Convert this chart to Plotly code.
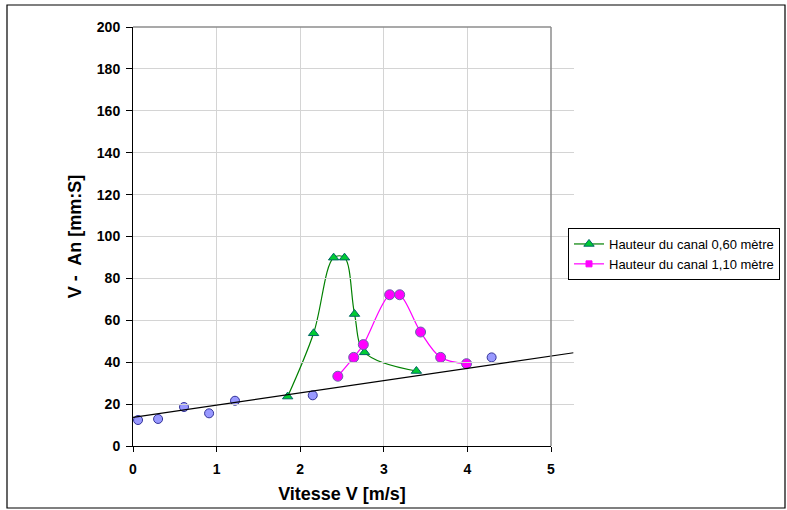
import plotly.graph_objects as go

# ---- data ----
blue_x = [0.06, 0.30, 0.61, 0.91, 1.22, 2.15, 4.29]
blue_y = [12.4, 12.9, 18.6, 15.6, 21.6, 24.2, 42.3]

green_x = [1.85, 2.16, 2.40, 2.53, 2.65, 2.77, 3.39]
green_y = [23.6, 53.8, 89.9, 89.9, 63.0, 44.7, 35.8]

mag_x = [2.45, 2.64, 2.755, 3.07, 3.19, 3.44, 3.68, 3.99]
mag_y = [33.3, 42.3, 48.4, 72.2, 72.2, 54.4, 42.3, 39.3]

trend_x = [0.0, 5.27]
trend_y = [13.7, 44.5]

name_green = "Hauteur du canal 0,60 mètre"
name_mag = "Hauteur du canal 1,10 mètre"

x_range = [0, 5]
y_range = [0, 200]

# ---- layout geometry ----
W, H = 787, 510
ml, mt, mb = 133, 27, 64
plot_w = 418
paper_w = 470
mr = W - ml - paper_w
plot_h = H - mt - mb
px_per_unit = plot_w / (x_range[1] - x_range[0])

FONT = "Arial, Liberation Sans, sans-serif"

fig = go.Figure()

# trendline on an auxiliary x-axis with identical scale (so it can run past x=5)
fig.add_trace(go.Scatter(
    x=trend_x, y=trend_y, mode="lines", xaxis="x2", yaxis="y",
    line=dict(color="black", width=1.2), showlegend=False, hoverinfo="skip"))

fig.add_trace(go.Scatter(
    x=blue_x, y=blue_y, mode="markers", showlegend=False,
    marker=dict(symbol="circle", size=9, color="#9999FF",
                line=dict(color="#333399", width=1))))

fig.add_trace(go.Scatter(
    x=green_x, y=green_y, mode="lines+markers", name=name_green,
    line=dict(color="#008000", width=1.2, shape="spline", smoothing=1),
    marker=dict(symbol="triangle-up", size=9, color="#00CC33",
                line=dict(color="#006666", width=1))))

fig.add_trace(go.Scatter(
    x=mag_x, y=mag_y, mode="lines+markers", name=name_mag, showlegend=False,
    line=dict(color="#FF00FF", width=1.2, shape="spline", smoothing=1),
    marker=dict(symbol="circle", size=10, color="#FF00FF",
                line=dict(color="#6666AA", width=1))))

# legend entry for magenta series (square marker as in the original legend)
fig.add_trace(go.Scatter(
    x=[None], y=[None], mode="lines+markers", name=name_mag,
    line=dict(color="#FF00FF", width=1.2),
    marker=dict(symbol="square", size=6, color="#FF00FF",
                line=dict(color="#FF00FF", width=1))))

x2_extent = trend_x[-1] * px_per_unit

fig.update_layout(
    width=W, height=H,
    margin=dict(l=ml, r=mr, t=mt, b=mb, pad=0, autoexpand=False),
    paper_bgcolor="white", plot_bgcolor="rgba(0,0,0,0)",
    font=dict(family=FONT, color="black"),
    xaxis=dict(
        domain=[0, plot_w / paper_w], range=x_range, dtick=1,
        showgrid=True, gridcolor="#D4D4D4", gridwidth=1,
        showline=True, linecolor="black", linewidth=1,
        ticks="outside", ticklen=5, tickcolor="black", ticklabelstandoff=5,
        tickfont=dict(size=14, family=FONT, color="black", weight="bold"),
        zeroline=False, anchor="y", automargin=False,
        title=dict(text="Vitesse V [m/s]", standoff=11,
                   font=dict(size=18, family=FONT, color="black", weight="bold")),
    ),
    xaxis2=dict(
        domain=[0, x2_extent / paper_w], range=[0, trend_x[-1]],
        visible=False, anchor="y", showgrid=False, zeroline=False,
    ),
    yaxis=dict(
        domain=[0, 1], range=y_range, dtick=20,
        showgrid=True, gridcolor="#D4D4D4", gridwidth=1,
        showline=True, linecolor="black", linewidth=1,
        ticks="outside", ticklen=6, tickcolor="black", ticklabelstandoff=3,
        tickfont=dict(size=14, family=FONT, color="black", weight="bold"),
        zeroline=False, automargin=False,
        title=dict(text="V -\u00a0 An [mm:S]", standoff=10,
                   font=dict(size=18, family=FONT, color="black", weight="bold")),
    ),
    legend=dict(
        x=(568 - ml) / paper_w, y=(446 - 228) / plot_h,
        xanchor="left", yanchor="top",
        bgcolor="white", bordercolor="black", borderwidth=1,
        font=dict(size=13, family=FONT, color="black"),
        tracegroupgap=0, itemwidth=30,
    ),
    shapes=[
        # plot area top and right border (gray)
        dict(type="line", xref="x domain", yref="y domain", x0=0, x1=1, y0=1, y1=1,
             line=dict(color="#8C8C8C", width=1.5), layer="above"),
        dict(type="line", xref="x domain", yref="y domain", x0=1, x1=1, y0=0, y1=1,
             line=dict(color="#8C8C8C", width=1.5), layer="above"),
        # chart outer border
        dict(type="rect", xref="paper", yref="paper",
             x0=(7 - ml) / paper_w, x1=(785 - ml) / paper_w,
             y0=(446 - 508) / plot_h, y1=(446 - 5) / plot_h,
             line=dict(color="black", width=1.2), fillcolor="rgba(0,0,0,0)", layer="below"),
    ],
)

fig.write_html("out.html")
